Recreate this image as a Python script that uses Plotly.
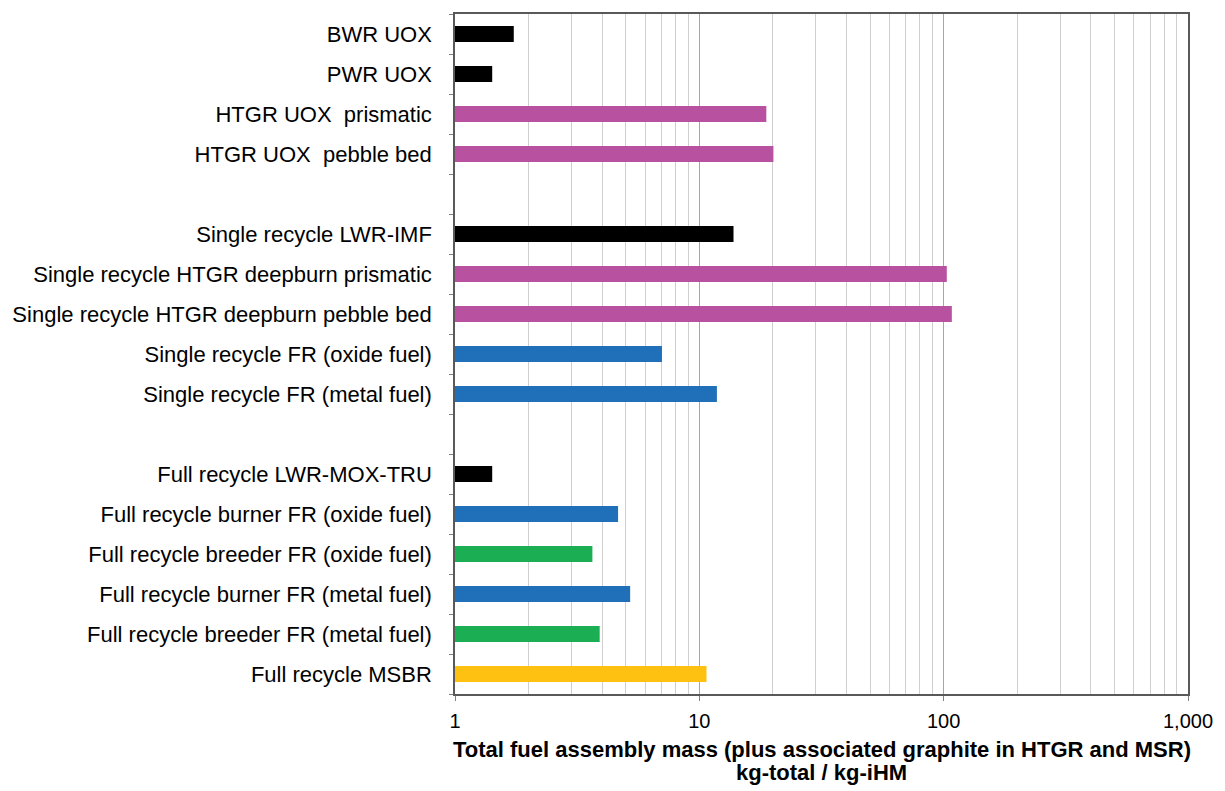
import plotly.graph_objects as go

# Fuel cycle options, top to bottom; empty strings separate the groups
options = [
    "BWR UOX",
    "PWR UOX",
    "HTGR UOX  prismatic",
    "HTGR UOX  pebble bed",
    "",
    "Single recycle LWR-IMF",
    "Single recycle HTGR deepburn prismatic",
    "Single recycle HTGR deepburn pebble bed",
    "Single recycle FR (oxide fuel)",
    "Single recycle FR (metal fuel)",
    "",
    "Full recycle LWR-MOX-TRU",
    "Full recycle burner FR (oxide fuel)",
    "Full recycle breeder FR (oxide fuel)",
    "Full recycle burner FR (metal fuel)",
    "Full recycle breeder FR (metal fuel)",
    "Full recycle MSBR",
]

# Total fuel assembly mass, kg-total / kg-iHM
mass = [1.74, 1.42, 18.8, 20.1, None,
        13.8, 103, 108, 7.03, 11.8, None,
        1.42, 4.65, 3.65, 5.21, 3.91, 10.7]

# Reactor family of each option
family = ["LWR", "LWR", "HTGR", "HTGR", None,
          "LWR", "HTGR", "HTGR", "FR burner", "FR burner", None,
          "LWR", "FR burner", "FR breeder", "FR burner", "FR breeder", "MSR"]

family_colors = {
    "LWR": "#000000",
    "HTGR": "#b8519f",
    "FR burner": "#1f6fb9",
    "FR breeder": "#1bae52",
    "MSR": "#fec112",
}

x_ticks = [1, 10, 100, 1000]
x_tick_text = ["1", "10", "100", "1,000"]

x_title_lines = [
    "Total fuel assembly mass (plus associated graphite in HTGR and MSR)",
    "kg-total / kg-iHM",
]

rows = list(range(len(options)))
bar_colors = [family_colors.get(f, "rgba(0,0,0,0)") for f in family]

# intermediate log gridlines: 2..9 within each decade
minor_vals = [m * d for d in (1, 10, 100) for m in range(2, 10)]

fig = go.Figure(
    go.Bar(
        x=mass,
        y=rows,
        orientation="h",
        width=0.4,
        marker=dict(color=bar_colors, line=dict(width=0)),
        hoverinfo="x+text",
        hovertext=options,
    )
)

font_family = "Liberation Sans, Arial, sans-serif"

fig.update_layout(
    width=1225,
    height=791,
    margin=dict(l=455, r=35, t=12, b=97),
    paper_bgcolor="white",
    plot_bgcolor="white",
    showlegend=False,
    font=dict(family=font_family, color="#000000"),
)

# two-line axis title, set tighter than the default title line height
for i, line in enumerate(x_title_lines):
    fig.add_annotation(
        text=f"<b>{line}</b>",
        xref="paper", yref="paper",
        x=0.5, y=0,
        xanchor="center", yanchor="middle",
        yshift=-55 - 23 * i,
        showarrow=False,
        font=dict(size=22, family=font_family, color="#000000"),
    )

fig.update_xaxes(
    type="log",
    range=[0, 3],
    tickvals=x_ticks,
    ticktext=x_tick_text,
    tickfont=dict(size=20, family=font_family),
    ticks="outside",
    ticklen=5,
    tickcolor="#808080",
    ticklabelstandoff=3,
    showgrid=True,
    gridcolor="#a6a6a6",
    gridwidth=1,
    minor=dict(
        tickmode="array",
        tickvals=minor_vals,
        showgrid=True,
        gridcolor="#cfcfcf",
        gridwidth=1,
        ticks="",
    ),
    showline=True,
    linecolor="#595959",
    linewidth=1.5,
    mirror=True,
    zeroline=False,
)

fig.update_yaxes(
    range=[len(options) - 0.5, -0.5],
    tickmode="array",
    tickvals=rows,
    ticktext=options,
    tickfont=dict(size=22, family=font_family),
    ticks="",
    ticklabelstandoff=17,
    showgrid=False,
    minor=dict(
        tick0=0.5,
        dtick=1,
        ticks="outside",
        ticklen=4,
        tickcolor="#808080",
        showgrid=False,
    ),
    showline=True,
    linecolor="#595959",
    linewidth=1.5,
    mirror=True,
    zeroline=False,
)

fig.write_html("out.html")
